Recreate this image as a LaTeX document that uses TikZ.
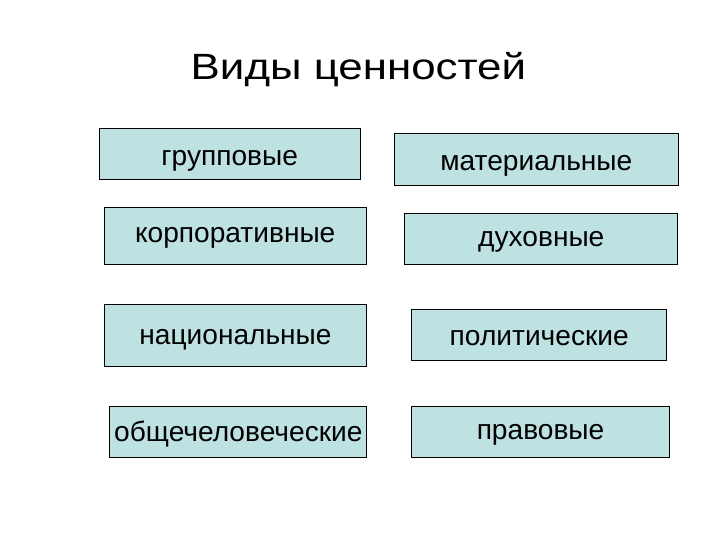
\documentclass[tikz,border=0pt]{standalone}
\usepackage{fontspec}
\setmainfont{Liberation Sans}
\definecolor{boxfill}{RGB}{190,225,225}
\begin{document}
\begin{tikzpicture}

      \tikzset{valbox/.style={draw, line width=0.7pt, fill=boxfill, inner sep=0pt, text height=10.4pt, text depth=0pt, font=\fontsize{20}{24}\selectfont},
               lowtext/.style={text height=#1}}
      \path[use as bounding box, fill=white] (0,0) rectangle (18,13.5);
%% Title
      	\node[anchor=base, xscale=1.2, font=\fontsize{26}{30}\selectfont] (title) at (8.96,11.52) {Виды ценностей};
%% Left column
      	\node[valbox, lowtext=16.1pt, minimum width=6.52cm, minimum height=1.275cm] (grp) at (5.743,9.655) {групповые};
      	\node[valbox, minimum width=6.54cm, minimum height=1.42cm] (korp) at (5.88,7.608) {корпоративные};
      	\node[valbox, lowtext=13.2pt, minimum width=6.56cm, minimum height=1.54cm] (nac) at (5.888,5.12) {национальные};
      	\node[valbox, lowtext=14pt, minimum width=6.42cm, minimum height=1.28cm] (obsch) at (5.958,2.708) {общечеловеческие};
%% Right column
      	\node[valbox, lowtext=16.1pt, minimum width=7.10cm, minimum height=1.31cm] (mat) at (13.408,9.513) {материальные};
      	\node[valbox, minimum width=6.82cm, minimum height=1.275cm] (duh) at (13.533,7.53) {духовные};
      	\node[valbox, lowtext=16.1pt, minimum width=6.375cm, minimum height=1.27cm] (pol) at (13.48,5.133) {политические};
      	\node[valbox, minimum width=6.44cm, minimum height=1.265cm] (prav) at (13.513,2.70) {правовые};

	\end{tikzpicture}
\end{document}
